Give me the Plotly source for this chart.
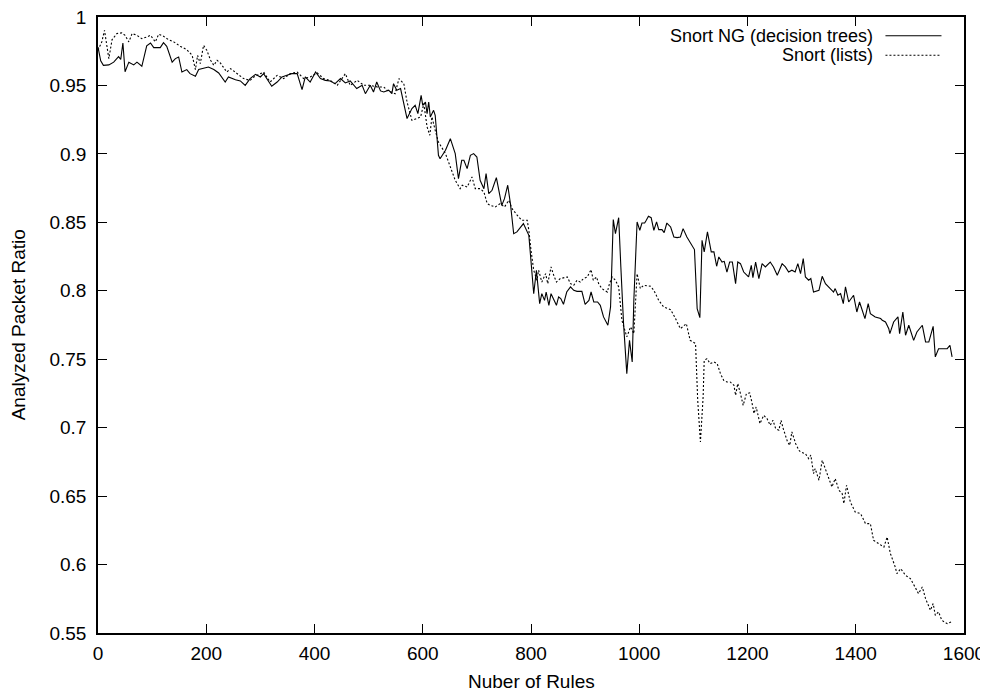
import plotly.graph_objects as go

# ---- data ----
ng_x = [0, 5, 10, 20, 29, 38, 42, 46, 50, 57, 66, 72, 81, 90, 97, 103, 115, 121, 127, 137, 143, 149, 155, 164, 170,
        180, 186, 195, 204, 214, 223, 235, 241, 254, 263, 272, 281, 291, 300, 306, 321, 331, 340, 349, 358, 368, 377,
        383, 392, 402, 411, 420, 429, 438, 448, 457, 466, 478, 488, 494, 503, 509, 515, 522, 528, 537, 543, 546, 552,
        559, 562, 571, 580, 586, 591, 597, 600, 605, 608, 611, 614, 620, 623, 629, 632, 642, 651, 660, 666, 672, 676,
        682, 688, 694, 700, 706, 713, 717, 722, 728, 736, 740, 746, 751, 757, 762, 768, 774, 786, 796, 800, 805, 810,
        812, 816, 820, 825, 828, 833, 837, 842, 847, 851, 855, 860, 866, 873, 879, 885, 894, 900, 907, 911, 916, 923,
        928, 934, 942, 947, 952, 956, 962, 966, 971, 977, 982, 987, 990, 996, 1001, 1005, 1010, 1013, 1017, 1022, 1027,
        1032, 1036, 1042, 1046, 1051, 1058, 1064, 1070, 1076, 1081, 1088, 1094, 1102, 1107, 1112, 1116, 1120, 1126,
        1133, 1138, 1143, 1147, 1153, 1157, 1162, 1167, 1172, 1178, 1182, 1187, 1193, 1202, 1207, 1210, 1215, 1221,
        1227, 1233, 1242, 1248, 1255, 1264, 1270, 1276, 1282, 1288, 1293, 1298, 1303, 1307, 1313, 1317, 1322, 1332,
        1338, 1344, 1353, 1359, 1362, 1367, 1372, 1377, 1381, 1387, 1396, 1402, 1407, 1417, 1423, 1427, 1436, 1446,
        1449, 1455, 1461, 1463, 1470, 1478, 1481, 1487, 1492, 1498, 1507, 1513, 1523, 1529, 1535, 1543, 1547, 1553,
        1563, 1569, 1574, 1578]
ng_y = [0.978, 0.968, 0.9647, 0.965, 0.967, 0.971, 0.969, 0.981, 0.960, 0.967, 0.965, 0.967, 0.964, 0.979, 0.981,
        0.9776, 0.9776, 0.9812, 0.9786, 0.967, 0.9696, 0.9708, 0.9598, 0.9616, 0.9586, 0.9567, 0.9616, 0.9623, 0.9635,
        0.9616, 0.9591, 0.9525, 0.9562, 0.9542, 0.9533, 0.9501, 0.955, 0.9581, 0.9562, 0.9586, 0.9494, 0.9525, 0.9562,
        0.9574, 0.9586, 0.9586, 0.9469, 0.9562, 0.9525, 0.9598, 0.955, 0.9537, 0.9533, 0.9513, 0.955, 0.9518, 0.9533,
        0.9477, 0.9501, 0.944, 0.9501, 0.9452, 0.9525, 0.946, 0.9452, 0.9465, 0.944, 0.9513, 0.9465, 0.9477, 0.9428,
        0.9258, 0.9331, 0.9355, 0.9294, 0.9428, 0.9355, 0.9379, 0.9294, 0.9379, 0.927, 0.9318, 0.9282, 0.899, 0.8965,
        0.9026, 0.9111, 0.9002, 0.8819, 0.8953, 0.8953, 0.8892, 0.899, 0.9002, 0.8977, 0.8807, 0.8746, 0.8856, 0.871,
        0.8734, 0.8827, 0.8746, 0.8624, 0.8673, 0.8771, 0.8637, 0.8417, 0.843, 0.8491, 0.8405, 0.823, 0.7979, 0.815,
        0.8052, 0.7906, 0.7979, 0.793, 0.7991, 0.7894, 0.7979, 0.793, 0.7894, 0.7955, 0.7943, 0.7901, 0.7991, 0.8028,
        0.8003, 0.7996, 0.7996, 0.7901, 0.793, 0.7991, 0.7918, 0.7918, 0.7894, 0.7809, 0.7748, 0.7882, 0.852, 0.8417,
        0.8534, 0.8174, 0.776, 0.7395, 0.7638, 0.748, 0.793, 0.8503, 0.8442, 0.8495, 0.8495, 0.8515, 0.8544, 0.8534,
        0.8442, 0.8503, 0.8447, 0.8447, 0.8425, 0.8495, 0.8466, 0.8393, 0.8388, 0.8393, 0.8454, 0.8393, 0.8357, 0.8301,
        0.787, 0.7804, 0.8369, 0.8284, 0.843, 0.8284, 0.8284, 0.8179, 0.8247, 0.821, 0.8215, 0.8137, 0.821, 0.821,
        0.8052, 0.821, 0.8198, 0.8137, 0.8101, 0.8186, 0.8096, 0.821, 0.8089, 0.8198, 0.8174, 0.821, 0.8174, 0.8113,
        0.8198, 0.8174, 0.8137, 0.815, 0.8137, 0.8198, 0.8125, 0.8235, 0.8101, 0.8077, 0.8089, 0.7991, 0.8003, 0.8106,
        0.8052, 0.8016, 0.7991, 0.8016, 0.7967, 0.7979, 0.7906, 0.8028, 0.7918, 0.7967, 0.7845, 0.7918, 0.7797, 0.7906,
        0.7833, 0.7809, 0.7797, 0.7784, 0.7772, 0.7723, 0.7687, 0.7772, 0.7809, 0.7687, 0.7845, 0.7675, 0.7748, 0.7638,
        0.7699, 0.7748, 0.7626, 0.7626, 0.774, 0.7517, 0.7577, 0.7577, 0.7577, 0.7602, 0.7517]

ls_x = [0, 7, 12, 20, 26, 35, 44, 50, 57, 63, 72, 81, 90, 97, 106, 112, 121, 130, 140, 152, 164, 174, 180, 184, 189,
        195, 201, 208, 214, 220, 226, 232, 238, 245, 257, 269, 281, 288, 294, 306, 318, 331, 343, 355, 368, 380, 392,
        405, 417, 429, 442, 457, 466, 479, 491, 503, 516, 528, 534, 549, 556, 565, 571, 580, 589, 596, 602, 608, 613,
        617, 623, 629, 642, 651, 660, 669, 673, 682, 691, 697, 706, 713, 719, 725, 734, 743, 751, 759, 765, 774, 783,
        793, 796, 800, 805, 811, 814, 820, 827, 831, 837, 842, 847, 854, 867, 873, 879, 885, 891, 897, 904, 911, 915,
        921, 925, 931, 941, 945, 950, 956, 962, 968, 977, 984, 990, 996, 1002, 1008, 1021, 1027, 1036, 1045, 1058,
        1067, 1076, 1087, 1094, 1104, 1108, 1113, 1118, 1120, 1125, 1131, 1138, 1144, 1150, 1156, 1162, 1168, 1175,
        1178, 1182, 1187, 1192, 1198, 1204, 1208, 1212, 1216, 1223, 1230, 1236, 1242, 1247, 1252, 1258, 1262, 1266,
        1274, 1278, 1282, 1289, 1295, 1298, 1307, 1313, 1317, 1322, 1325, 1332, 1338, 1347, 1356, 1362, 1369, 1375,
        1378, 1383, 1390, 1399, 1409, 1418, 1427, 1433, 1442, 1452, 1458, 1464, 1473, 1476, 1483, 1492, 1501, 1510,
        1516, 1523, 1529, 1538, 1543, 1547, 1553, 1559, 1569, 1576]
ls_y = [0.9757, 0.9818, 0.9903, 0.9696, 0.9835, 0.9879, 0.9884, 0.9866, 0.9818, 0.9879, 0.9866, 0.9842, 0.9854,
        0.9866, 0.9818, 0.9874, 0.9859, 0.9835, 0.9818, 0.9786, 0.9762, 0.972, 0.9616, 0.972, 0.9659, 0.9793, 0.9757,
        0.9684, 0.9647, 0.9684, 0.9664, 0.9635, 0.9598, 0.9623, 0.9586, 0.955, 0.9537, 0.9562, 0.9574, 0.9598, 0.9525,
        0.9574, 0.955, 0.9586, 0.9598, 0.955, 0.9562, 0.9591, 0.955, 0.9537, 0.9501, 0.9586, 0.9501, 0.9537, 0.9501,
        0.9501, 0.9489, 0.9489, 0.9465, 0.944, 0.955, 0.9513, 0.9379, 0.9245, 0.9258, 0.927, 0.9367, 0.9197, 0.9136,
        0.927, 0.9172, 0.9087, 0.9002, 0.8904, 0.8807, 0.8746, 0.8771, 0.8758, 0.8831, 0.8746, 0.8746, 0.8722, 0.8637,
        0.8624, 0.8612, 0.8637, 0.8612, 0.8661, 0.86, 0.8554, 0.8515, 0.8515, 0.8442, 0.8296, 0.815, 0.8077, 0.815,
        0.8064, 0.8125, 0.8052, 0.8174, 0.8113, 0.8064, 0.8089, 0.8101, 0.8052, 0.804, 0.8077, 0.8064, 0.8089, 0.8101,
        0.8155, 0.8077, 0.8101, 0.8052, 0.8016, 0.7991, 0.8052, 0.8101, 0.8077, 0.8028, 0.7784, 0.7663, 0.7736, 0.7687,
        0.8125, 0.8016, 0.804, 0.8033, 0.8003, 0.793, 0.7882, 0.7862, 0.7797, 0.7723, 0.776, 0.7638, 0.7614, 0.72,
        0.6896, 0.7224, 0.7492, 0.7504, 0.7468, 0.748, 0.7468, 0.7395, 0.7346, 0.7334, 0.7334, 0.731, 0.7236, 0.7322,
        0.7249, 0.7163, 0.7249, 0.7254, 0.7188, 0.7103, 0.7151, 0.703, 0.709, 0.7066, 0.7017, 0.7054, 0.6993, 0.6981,
        0.7054, 0.6993, 0.6896, 0.6871, 0.6969, 0.6883, 0.6835, 0.6822, 0.681, 0.6774, 0.680, 0.6664, 0.6701, 0.6616,
        0.6762, 0.6664, 0.6567, 0.6628, 0.6542, 0.6518, 0.6445, 0.6579, 0.6457, 0.6384, 0.6372, 0.6299, 0.6299, 0.6177,
        0.6153, 0.6128, 0.6201, 0.608, 0.5982, 0.5934, 0.597, 0.5921, 0.5897, 0.5836, 0.5788, 0.5836, 0.5751, 0.5666,
        0.5715, 0.5629, 0.5654, 0.5593, 0.5568, 0.5581]

series_names = ["Snort NG (decision trees)", "Snort (lists)"]
x_tickvals = [0, 200, 400, 600, 800, 1000, 1200, 1400, 1600]
x_ticktext = ["0", "200", "400", "600", "800", "1000", "1200", "1400", "1600"]
y_tickvals = [0.55, 0.6, 0.65, 0.7, 0.75, 0.8, 0.85, 0.9, 0.95, 1.0]
y_ticktext = ["0.55", "0.6", "0.65", "0.7", "0.75", "0.8", "0.85", "0.9", "0.95", "1"]
x_title = "Nuber of Rules"
y_title = "Analyzed Packet Ratio"

FONT = "Liberation Sans, Arial, Helvetica, sans-serif"
FS = 19
KEY_FS = 18

fig = go.Figure()
fig.add_trace(go.Scatter(x=ng_x, y=ng_y, mode="lines", name=series_names[0],
                         line=dict(color="black", width=1.1)))
fig.add_trace(go.Scatter(x=ls_x, y=ls_y, mode="lines", name=series_names[1],
                         line=dict(color="black", width=1.1, dash="2px,2px")))

axis_common = dict(showline=True, linecolor="black", linewidth=1.5, mirror="allticks",
                   ticks="inside", ticklen=9, tickwidth=1, tickcolor="black",
                   showgrid=False, zeroline=False, automargin=False,
                   ticklabeloverflow="allow",
                   tickfont=dict(family=FONT, size=FS, color="black"))

fig.update_xaxes(range=[0, 1600], tickvals=x_tickvals, ticktext=x_ticktext,
                 ticklabelstandoff=2, **axis_common)
fig.update_yaxes(range=[0.55, 1.0], tickvals=y_tickvals, ticktext=y_ticktext,
                 ticklabelstandoff=6, **axis_common)

# gnuplot-style key: text on the left, line sample on the right
key_rows = [(0.9695, "solid"), (0.9380, "2px,2px")]
annotations = []
shapes = []
for (yy, dash), name in zip(key_rows, series_names):
    annotations.append(dict(x=0.8965, y=yy, xref="paper", yref="paper", text=name, showarrow=False,
                            xanchor="right", yanchor="middle", borderpad=0,
                            font=dict(family=FONT, size=KEY_FS, color="black")))
    shapes.append(dict(type="line", xref="paper", yref="paper", x0=0.9093, x1=0.974, y0=yy, y1=yy,
                       line=dict(color="black", width=1.1, dash=dash)))

annotations.append(dict(x=0.5, y=-0.079, xref="paper", yref="paper", text=x_title, showarrow=False,
                        xanchor="center", yanchor="middle", font=dict(family=FONT, size=FS, color="black")))
annotations.append(dict(x=-0.092, y=0.5, xref="paper", yref="paper", text=y_title, showarrow=False,
                        textangle=-90, xanchor="center", yanchor="middle",
                        font=dict(family=FONT, size=FS, color="black")))

# the page body adds an 8px offset, so the figure is sized 8px smaller on each side
fig.update_layout(width=980, height=683, showlegend=False,
                  margin=dict(l=90, r=24, t=9, b=58),
                  paper_bgcolor="white", plot_bgcolor="white",
                  font=dict(family=FONT, size=FS, color="black"),
                  annotations=annotations, shapes=shapes)

fig.write_html("out.html")
